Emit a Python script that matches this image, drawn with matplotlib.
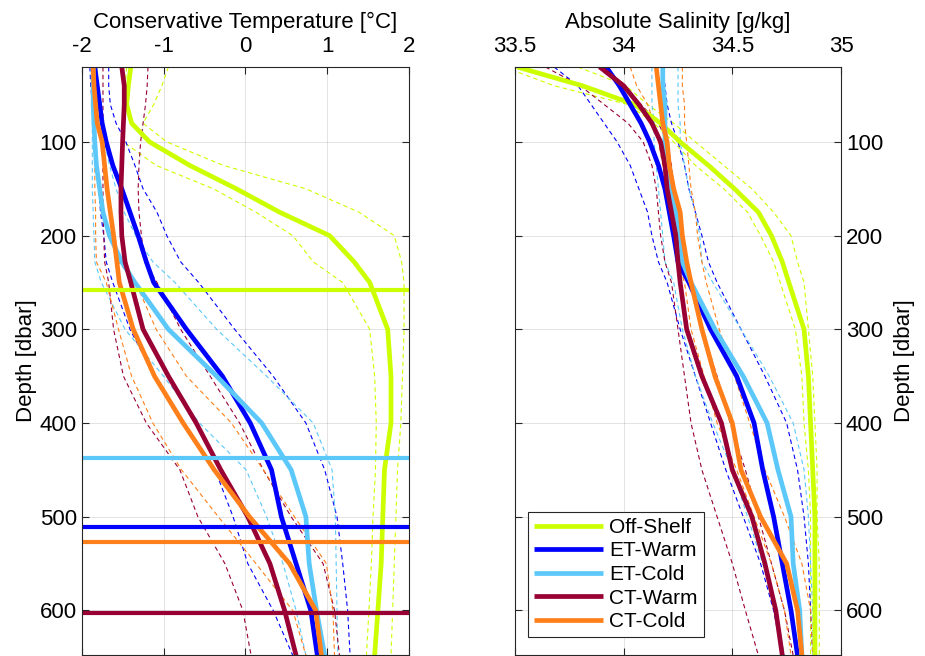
import numpy as np
import matplotlib
matplotlib.use("Agg")
import matplotlib.pyplot as plt

plt.rcParams['font.family'] = ['Liberation Sans', 'DejaVu Sans']
plt.rcParams['axes.unicode_minus'] = False

# depth levels (dbar) at which the profiles were read
depth = [20, 40, 60, 80, 100, 125, 150, 175, 200, 228, 250, 300, 350, 400, 450, 500, 550, 600, 648]

labels = ["Off-Shelf", "ET-Warm", "ET-Cold", "CT-Warm", "CT-Cold"]
colors = ["#CCFF00", "#0000FF", "#5CC8FA", "#990033", "#FF801A"]
# depth of the horizontal marker line of each group
mark_depth = [258.5, 511, 437, 603, 527]

# Conservative Temperature: mean, upper, lower
off_T = [-1.40, -1.43, -1.45, -1.39, -1.17, -0.68, -0.11, 0.42, 1.03, 1.33, 1.52, 1.74, 1.78, 1.78, 1.70, 1.68, 1.66, 1.62, 1.58]
off_T_hi = [-0.94, -1.02, -1.12, -1.25, -0.96, -0.27, 0.74, 1.39, 1.82, 1.91, 1.94, 1.94, 1.92, 1.90, 1.86, 1.84, 1.82, 1.80, 1.78]
off_T_lo = [-1.45, -1.47, -1.50, -1.50, -1.49, -1.09, -0.39, 0.13, 0.58, 0.83, 1.19, 1.52, 1.58, 1.60, 1.59, 1.56, 1.54, 1.51, 1.48]

etw_T = [-1.84, -1.81, -1.78, -1.75, -1.70, -1.62, -1.51, -1.41, -1.31, -1.21, -1.12, -0.72, -0.28, 0.06, 0.32, 0.44, 0.62, 0.80, 0.88]
etw_T_hi = [-1.67, -1.67, -1.65, -1.58, -1.46, -1.35, -1.25, -1.08, -0.96, -0.79, -0.57, -0.13, 0.34, 0.74, 0.97, 1.12, 1.19, 1.25, 1.28]
etw_T_lo = [-1.90, -1.89, -1.87, -1.85, -1.83, -1.81, -1.79, -1.77, -1.73, -1.70, -1.62, -1.41, -1.11, -0.76, -0.37, -0.15, 0.03, 0.34, 0.58]

etc_T = [-1.86, -1.86, -1.86, -1.85, -1.84, -1.82, -1.78, -1.74, -1.66, -1.51, -1.35, -0.94, -0.35, 0.20, 0.56, 0.74, 0.78, 0.87, 0.97]
etc_T_hi = [-1.82, -1.80, -1.78, -1.75, -1.72, -1.66, -1.58, -1.48, -1.34, -1.13, -0.86, -0.35, 0.26, 0.83, 1.06, 1.10, 1.11, 1.12, 1.13]
etc_T_lo = [-1.87, -1.87, -1.87, -1.87, -1.87, -1.87, -1.87, -1.86, -1.85, -1.84, -1.76, -1.47, -1.00, -0.56, 0.01, 0.26, 0.46, 0.62, 0.74]

ctw_T = [-1.51, -1.48, -1.48, -1.49, -1.50, -1.51, -1.52, -1.52, -1.51, -1.47, -1.40, -1.25, -0.94, -0.60, -0.30, 0.03, 0.30, 0.48, 0.62]
ctw_T_hi = [-1.19, -1.20, -1.22, -1.25, -1.28, -1.30, -1.31, -1.30, -1.27, -1.23, -1.08, -0.79, -0.43, -0.07, 0.22, 0.56, 0.95, 1.09, 1.15]
ctw_T_lo = [-1.74, -1.74, -1.74, -1.74, -1.74, -1.74, -1.74, -1.74, -1.73, -1.72, -1.67, -1.61, -1.49, -1.21, -0.80, -0.58, -0.25, -0.03, 0.07]

ctc_T = [-1.86, -1.85, -1.83, -1.81, -1.75, -1.72, -1.69, -1.65, -1.61, -1.57, -1.54, -1.37, -1.11, -0.76, -0.38, 0.05, 0.54, 0.86, 0.93]
ctc_T_hi = [-1.82, -1.80, -1.78, -1.76, -1.74, -1.71, -1.68, -1.64, -1.60, -1.55, -1.34, -1.09, -0.72, -0.17, 0.22, 0.60, 0.99, 1.07, 1.09]
ctc_T_lo = [-1.86, -1.86, -1.86, -1.85, -1.85, -1.84, -1.84, -1.83, -1.83, -1.82, -1.70, -1.55, -1.39, -1.13, -0.78, -0.33, 0.13, 0.58, 0.74]

# Absolute Salinity: mean, upper, lower
off_S = [33.51, 33.81, 34.05, 34.17, 34.26, 34.39, 34.51, 34.62, 34.68, 34.73, 34.76, 34.83, 34.85, 34.86, 34.87, 34.88, 34.88, 34.88, 34.88]
off_S_hi = [33.79, 34.01, 34.11, 34.23, 34.33, 34.46, 34.59, 34.69, 34.77, 34.80, 34.83, 34.85, 34.87, 34.88, 34.89, 34.89, 34.90, 34.90, 34.90]
off_S_lo = [33.45, 33.68, 34.02, 34.14, 34.23, 34.33, 34.46, 34.57, 34.63, 34.69, 34.72, 34.79, 34.82, 34.83, 34.85, 34.86, 34.86, 34.86, 34.86]

etw_S = [33.92, 33.98, 34.03, 34.08, 34.12, 34.16, 34.19, 34.21, 34.23, 34.25, 34.30, 34.40, 34.52, 34.60, 34.64, 34.69, 34.73, 34.77, 34.80]
etw_S_hi = [34.18, 34.19, 34.20, 34.22, 34.25, 34.28, 34.30, 34.33, 34.36, 34.39, 34.43, 34.54, 34.65, 34.75, 34.80, 34.83, 34.85, 34.86, 34.87]
etw_S_lo = [33.68, 33.79, 33.85, 33.91, 33.97, 34.03, 34.07, 34.11, 34.13, 34.16, 34.20, 34.26, 34.33, 34.40, 34.47, 34.55, 34.63, 34.69, 34.73]

etc_S = [34.18, 34.18, 34.19, 34.19, 34.19, 34.20, 34.22, 34.24, 34.26, 34.27, 34.31, 34.42, 34.55, 34.66, 34.71, 34.77, 34.78, 34.81, 34.82]
etc_S_hi = [34.25, 34.25, 34.25, 34.26, 34.26, 34.28, 34.30, 34.33, 34.35, 34.36, 34.41, 34.54, 34.67, 34.78, 34.83, 34.85, 34.86, 34.87, 34.87]
etc_S_lo = [34.13, 34.13, 34.13, 34.14, 34.14, 34.15, 34.16, 34.17, 34.18, 34.19, 34.23, 34.27, 34.33, 34.41, 34.50, 34.57, 34.64, 34.70, 34.74]

ctw_S = [33.89, 34.00, 34.07, 34.13, 34.17, 34.19, 34.20, 34.22, 34.24, 34.25, 34.26, 34.29, 34.36, 34.45, 34.50, 34.59, 34.65, 34.70, 34.73]
ctw_S_hi = [33.88, 33.99, 34.08, 34.16, 34.20, 34.22, 34.23, 34.24, 34.25, 34.26, 34.31, 34.36, 34.43, 34.49, 34.56, 34.62, 34.68, 34.74, 34.78]
ctw_S_lo = [33.64, 33.80, 33.91, 34.02, 34.09, 34.13, 34.15, 34.16, 34.17, 34.19, 34.22, 34.25, 34.28, 34.31, 34.36, 34.43, 34.50, 34.56, 34.62]

ctc_S = [34.15, 34.16, 34.17, 34.18, 34.20, 34.21, 34.23, 34.26, 34.27, 34.29, 34.31, 34.36, 34.42, 34.50, 34.54, 34.63, 34.75, 34.80, 34.82]
ctc_S_hi = [34.27, 34.27, 34.28, 34.28, 34.29, 34.30, 34.31, 34.33, 34.34, 34.36, 34.38, 34.44, 34.51, 34.58, 34.65, 34.74, 34.82, 34.86, 34.87]
ctc_S_lo = [34.03, 34.06, 34.11, 34.14, 34.16, 34.18, 34.20, 34.22, 34.23, 34.25, 34.28, 34.31, 34.37, 34.43, 34.52, 34.60, 34.68, 34.74, 34.77]

T_mean = [off_T, etw_T, etc_T, ctw_T, ctc_T]
T_hi = [off_T_hi, etw_T_hi, etc_T_hi, ctw_T_hi, ctc_T_hi]
T_lo = [off_T_lo, etw_T_lo, etc_T_lo, ctw_T_lo, ctc_T_lo]
S_mean = [off_S, etw_S, etc_S, ctw_S, ctc_S]
S_hi = [off_S_hi, etw_S_hi, etc_S_hi, ctw_S_hi, ctc_S_hi]
S_lo = [off_S_lo, etw_S_lo, etc_S_lo, ctw_S_lo, ctc_S_lo]

fs = 16
axcol = "#262626"
W, H = 925, 656
fig = plt.figure(figsize=(W / 100, H / 100), dpi=100)
ax1 = fig.add_axes([81.7 / W, 1.5 / H, 327.3 / W, 587.5 / H])
ax2 = fig.add_axes([515.0 / W, 1.5 / H, 326.0 / W, 587.5 / H])

dash = (4, 3)

def style_axes(ax):
    ax.set_ylim(647, 20)
    ax.set_yticks([100, 200, 300, 400, 500, 600])
    ax.grid(True, color=axcol, alpha=0.15, linewidth=0.6)
    ax.set_axisbelow(True)
    ax.xaxis.set_ticks_position('both')
    ax.yaxis.set_ticks_position('both')
    ax.xaxis.set_label_position('top')
    ax.tick_params(axis='both', which='both', direction='in', length=5, width=0.8,
                   colors=axcol, labelsize=fs, labelcolor='black',
                   top=True, bottom=True, left=True, right=True,
                   labeltop=True, labelbottom=False)
    ax.tick_params(axis='x', pad=7)
    for sp in ax.spines.values():
        sp.set_color(axcol)
        sp.set_linewidth(0.8)

# temperature panel
for i in range(5):
    ax1.plot(T_hi[i], depth, color=colors[i], lw=0.8, dashes=dash)
    ax1.plot(T_lo[i], depth, color=colors[i], lw=0.8, dashes=dash)
for i in range(5):
    ax1.plot(T_mean[i], depth, color=colors[i], lw=3.4, solid_capstyle='butt')
for i in range(5):
    ax1.axhline(mark_depth[i], color=colors[i], lw=3.0)
ax1.set_xlim(-2, 2)
ax1.set_xticks([-2, -1, 0, 1, 2])
style_axes(ax1)
ax1.set_xlabel("Conservative Temperature [°C]", fontsize=fs, labelpad=6)
ax1.set_ylabel("Depth [dbar]", fontsize=fs, labelpad=2)

# salinity panel
for i in range(5):
    ax2.plot(S_hi[i], depth, color=colors[i], lw=0.8, dashes=dash)
    ax2.plot(S_lo[i], depth, color=colors[i], lw=0.8, dashes=dash)
handles = []
for i in range(5):
    h, = ax2.plot(S_mean[i], depth, color=colors[i], lw=3.4, solid_capstyle='butt', label=labels[i])
    handles.append(h)
ax2.set_xlim(33.5, 35)
ax2.set_xticks([33.5, 34, 34.5, 35])
ax2.set_xticklabels(["33.5", "34", "34.5", "35"])
style_axes(ax2)
ax2.tick_params(axis='y', labelleft=False, labelright=True)
ax2.yaxis.set_label_position('right')
ax2.set_xlabel("Absolute Salinity [g/kg]", fontsize=fs, labelpad=6)
ax2.set_ylabel("Depth [dbar]", fontsize=fs, labelpad=8)

leg = ax2.legend(handles=handles, loc='lower left', bbox_to_anchor=(0.039, 0.029),
                 borderaxespad=0, fontsize=15, handlelength=3.3, handletextpad=0.3,
                 labelspacing=0.22, borderpad=0.3, fancybox=False, framealpha=1,
                 edgecolor=axcol)
leg.get_frame().set_linewidth(0.8)

fig.savefig("out.png", dpi=100)
